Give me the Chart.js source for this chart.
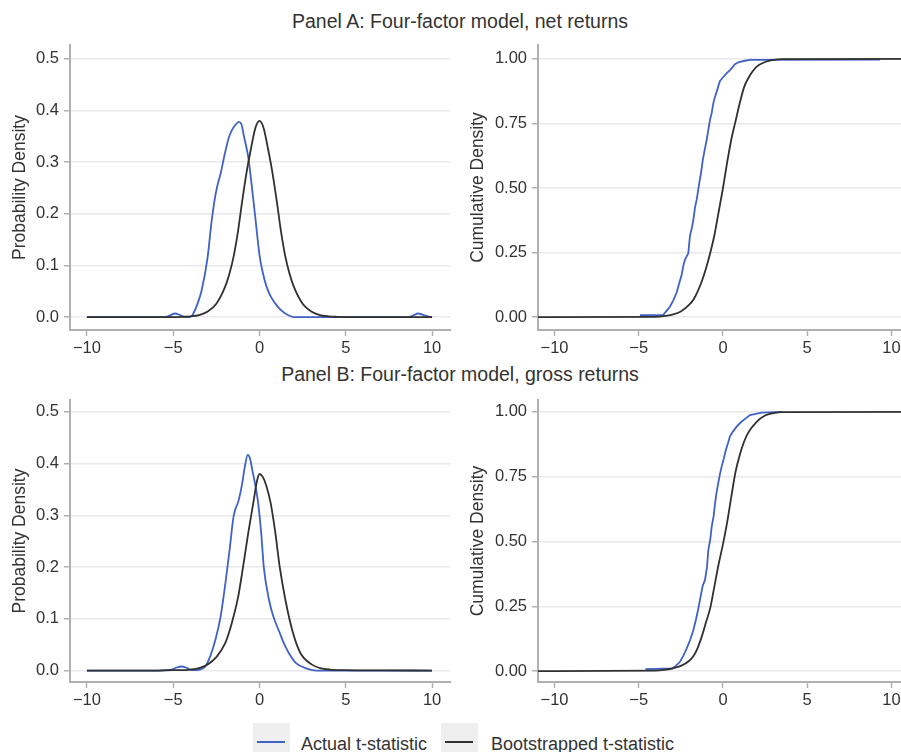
<!DOCTYPE html>
<html>
<head>
<meta charset="utf-8">
<title>Four-factor model t-statistics</title>
<script src="https://cdn.jsdelivr.net/npm/chart.js@4.4.1/dist/chart.umd.min.js"></script>
<style>
    body {
        margin: 0;
        width: 901px;
        height: 752px;
        overflow: hidden;
        background: #fff;
        font-family: "Liberation Sans", Arial, sans-serif;
        color: #333;
        position: relative;
    }
    canvas { position: absolute; }
    .panel-title {
        position: absolute;
        left: 0;
        width: 920px;
        text-align: center;
        font-size: 19.5px;
        line-height: 19.5px;
        white-space: nowrap;
    }
    .legend-box {
        position: absolute;
        top: 723px;
        width: 37px;
        height: 40px;
        background: #efefef;
    }
    .legend-box span {
        position: absolute;
        left: 4px;
        top: 18px;
        width: 28px;
        height: 2px;
    }
    .legend-text {
        position: absolute;
        top: 735px;
        font-size: 18px;
        line-height: 18px;
        white-space: nowrap;
    }
</style>
</head>
<body>

<div class="panel-title" style="top: 11.5px;">Panel A: Four-factor model, net returns</div>
<div class="panel-title" style="top: 364.5px;">Panel B: Four-factor model, gross returns</div>

<canvas id="densA" width="452" height="330" style="left: 0px; top: 30px;"></canvas>
<canvas id="cdfA" width="470" height="330" style="left: 458px; top: 30px;"></canvas>
<canvas id="densB" width="452" height="327" style="left: 0px; top: 385px;"></canvas>
<canvas id="cdfB" width="470" height="327" style="left: 458px; top: 385px;"></canvas>

<div class="legend-box" style="left: 253px;"><span style="background: #3f62c4;"></span></div>
<div class="legend-text" style="left: 301px;">Actual t-statistic</div>
<div class="legend-box" style="left: 441px;"><span style="background: #303030;"></span></div>
<div class="legend-text" style="left: 491px;">Bootstrapped t-statistic</div>

<script>
// tick values
const xTicks = [-10, -5, 0, 5, 10];
const densTicks = [0, 0.1, 0.2, 0.3, 0.4, 0.5];
const cdfTicks = [0, 0.25, 0.5, 0.75, 1];

// panel A, probability density
const actualDensA_x = [-10, -5.5, -5.2, -4.9, -4.6, -4.3, -4.1, -3.9, -3.6, -3.35, -3.0, -2.8, -2.6, -2.45, -2.25, -2.05, -1.8, -1.6, -1.4, -1.2, -1.05, -0.9, -0.65, -0.4, -0.2, 0.0, 0.2, 0.4, 0.65, 0.9, 1.2, 1.5, 2.0, 8.6, 8.9, 9.2, 9.5, 9.8, 10];
const actualDensA_y = [0, 0, 0.003, 0.007, 0.004, 0, 0, 0.003, 0.025, 0.052, 0.117, 0.178, 0.227, 0.253, 0.278, 0.31, 0.345, 0.362, 0.372, 0.378, 0.374, 0.35, 0.31, 0.24, 0.18, 0.12, 0.085, 0.06, 0.04, 0.027, 0.015, 0.007, 0, 0, 0.003, 0.007, 0.004, 0.001, 0];
const bootDensA_x = [-10, -5, -4.5, -4, -3.5, -3, -2.5, -2, -1.75, -1.5, -1.25, -1, -0.75, -0.5, -0.25, 0, 0.25, 0.5, 0.75, 1, 1.25, 1.5, 1.75, 2, 2.5, 3, 3.5, 4, 4.5, 5, 10];
const bootDensA_y = [0, 0, 0.0005, 0.0015, 0.004, 0.011, 0.026, 0.058, 0.083, 0.117, 0.165, 0.225, 0.28, 0.325, 0.365, 0.38, 0.365, 0.325, 0.28, 0.225, 0.165, 0.117, 0.083, 0.058, 0.026, 0.011, 0.004, 0.0015, 0.0005, 0, 0];

// panel A, cumulative density
const actualCdfA_x = [-4.93, -3.55, -3.4, -3.15, -2.95, -2.75, -2.6, -2.45, -2.35, -2.26, -2.06, -1.96, -1.85, -1.76, -1.66, -1.56, -1.41, -1.3, -1.2, -1.08, -0.97, -0.87, -0.77, -0.67, -0.57, -0.47, -0.32, -0.18, 0.02, 0.22, 0.42, 0.71, 0.95, 1.3, 1.6, 9.32];
const actualCdfA_y = [0.008, 0.008, 0.02, 0.04, 0.065, 0.095, 0.13, 0.165, 0.2, 0.222, 0.247, 0.315, 0.345, 0.376, 0.425, 0.455, 0.518, 0.56, 0.608, 0.65, 0.686, 0.725, 0.764, 0.79, 0.83, 0.854, 0.885, 0.915, 0.93, 0.945, 0.957, 0.98, 0.988, 0.993, 0.996, 0.997];
const bootCdfA_x = [-11, -4, -3.5, -3, -2.5, -2, -1.75, -1.5, -1.25, -1, -0.75, -0.5, -0.25, 0, 0.25, 0.5, 0.75, 1, 1.25, 1.5, 2, 2.5, 3, 3.5, 12];
const bootCdfA_y = [0, 0.001, 0.004, 0.01, 0.022, 0.048, 0.068, 0.1, 0.14, 0.19, 0.25, 0.32, 0.41, 0.5, 0.6, 0.69, 0.76, 0.83, 0.89, 0.925, 0.97, 0.988, 0.996, 0.999, 1];

// panel B, probability density
const actualDensB_x = [-10, -6.3, -5.1, -4.8, -4.5, -4.2, -3.9, -3.6, -3.3, -3.1, -2.85, -2.55, -2.25, -1.97, -1.73, -1.5, -1.2, -1.0, -0.85, -0.68, -0.55, -0.4, -0.25, -0.1, 0.1, 0.25, 0.55, 0.8, 1.15, 1.45, 1.7, 2.1, 2.75, 3.3, 10];
const actualDensB_y = [0, 0, 0.002, 0.006, 0.008, 0.005, 0.001, 0.001, 0.004, 0.01, 0.028, 0.06, 0.105, 0.17, 0.234, 0.298, 0.33, 0.362, 0.394, 0.417, 0.41, 0.385, 0.36, 0.33, 0.266, 0.2, 0.137, 0.105, 0.075, 0.05, 0.034, 0.015, 0.004, 0, 0];
const bootDensB_x = [-10, -6, -5, -4.5, -4, -3.5, -3, -2.5, -2, -1.75, -1.5, -1.25, -1, -0.65, -0.33, -0.15, 0, 0.2, 0.4, 0.64, 0.92, 1.17, 1.5, 1.94, 2.37, 3.04, 3.5, 4.1, 5, 6, 7, 10];
const bootDensB_y = [0, 0, 0.001, 0.001, 0.002, 0.005, 0.012, 0.026, 0.052, 0.075, 0.105, 0.14, 0.19, 0.266, 0.33, 0.366, 0.38, 0.374, 0.357, 0.325, 0.266, 0.201, 0.137, 0.073, 0.034, 0.0116, 0.005, 0.002, 0.001, 0.0005, 0.0005, 0];

// panel B, cumulative density
const actualCdfB_x = [-4.6, -3.0, -2.8, -2.55, -2.35, -2.15, -1.95, -1.76, -1.6, -1.45, -1.37, -1.2, -1.07, -0.95, -0.87, -0.75, -0.67, -0.55, -0.47, -0.38, -0.28, -0.18, -0.08, 0.05, 0.17, 0.3, 0.41, 0.6, 0.81, 1.11, 1.35, 1.6, 2.29, 3.56];
const actualCdfB_y = [0.008, 0.01, 0.02, 0.036, 0.06, 0.088, 0.12, 0.158, 0.2, 0.245, 0.274, 0.33, 0.351, 0.4, 0.467, 0.51, 0.557, 0.6, 0.647, 0.69, 0.725, 0.76, 0.789, 0.82, 0.853, 0.88, 0.905, 0.925, 0.943, 0.963, 0.975, 0.988, 0.997, 1.0];
const bootCdfB_x = [-11, -4, -3.5, -3, -2.5, -2, -1.75, -1.5, -1.25, -1, -0.75, -0.5, -0.25, 0, 0.25, 0.5, 0.75, 1, 1.25, 1.5, 2, 2.5, 3, 3.5, 12];
const bootCdfB_y = [0, 0.002, 0.005, 0.011, 0.02, 0.04, 0.058, 0.09, 0.135, 0.19, 0.245, 0.33, 0.415, 0.49, 0.575, 0.675, 0.77, 0.835, 0.885, 0.92, 0.962, 0.986, 0.995, 0.999, 1];

const blue = '#3f62c4';
const black = '#303030';
const axisColor = '#b0b0b0';
const gridColor = '#e9e9ec';
const textColor = '#333333';
const fontFamily = '"Liberation Sans", Arial, sans-serif';

// zip two arrays into {x, y} points
function points(xs, ys) {
    return xs.map((x, i) => ({ x: x, y: ys[i] }));
}

// minus sign like the original
function fmt(v, digits) {
    const s = Math.abs(v).toFixed(digits);
    return v < 0 ? '\u2212' + s : s;
}

function makePanel(id, cfg) {
    const ctx = document.getElementById(id).getContext('2d');

    new Chart(ctx, {
        type: 'line',
        data: {
            datasets: [{
                label: 'Bootstrapped t-statistic',
                data: points(cfg.bootX, cfg.bootY),
                borderColor: black,
                borderWidth: 1.8,
                pointRadius: 0,
                cubicInterpolationMode: 'monotone',
                order: 0
            }, {
                label: 'Actual t-statistic',
                data: points(cfg.actualX, cfg.actualY),
                borderColor: blue,
                borderWidth: 1.8,
                pointRadius: 0,
                cubicInterpolationMode: cfg.smoothActual ? 'monotone' : 'default',
                tension: 0,
                order: 1
            }]
        },
        options: {
            responsive: false,
            animation: false,
            devicePixelRatio: 1,
            layout: { padding: { top: 15, right: cfg.padRight, bottom: 0, left: 0 } },
            plugins: {
                legend: { display: false },
                tooltip: { enabled: false }
            },
            scales: {
                x: {
                    type: 'linear',
                    min: cfg.xMin,
                    max: cfg.xMax,
                    afterBuildTicks: s => { s.ticks = xTicks.map(v => ({ value: v })); },
                    afterFit: s => { s.height = 30; },
                    grid: { drawOnChartArea: false, drawTicks: true, tickLength: 6, tickColor: axisColor, tickWidth: 1.5 },
                    border: { display: true, color: axisColor, width: 2 },
                    ticks: {
                        autoSkip: false,
                        maxRotation: 0,
                        padding: 3,
                        color: textColor,
                        font: { family: fontFamily, size: 16.5 },
                        callback: v => fmt(v, 0)
                    }
                },
                y: {
                    type: 'linear',
                    min: cfg.yMin,
                    max: cfg.yMax,
                    afterBuildTicks: s => { s.ticks = cfg.yTicks.map(v => ({ value: v })); },
                    afterFit: s => { s.width = cfg.yWidth; },
                    grid: { color: gridColor, lineWidth: 1.5, drawTicks: true, tickLength: 6, tickColor: axisColor, tickWidth: 1.5 },
                    border: { display: true, color: axisColor, width: 2 },
                    ticks: {
                        autoSkip: false,
                        padding: 5,
                        color: textColor,
                        font: { family: fontFamily, size: 16.5 },
                        callback: v => fmt(v, cfg.digits)
                    },
                    title: {
                        display: true,
                        text: cfg.yTitle,
                        color: textColor,
                        font: { family: fontFamily, size: 17.5 },
                        padding: { top: 9.5, bottom: 0 }
                    }
                }
            }
        }
    });
}

makePanel('densA', {
    actualX: actualDensA_x, actualY: actualDensA_y,
    bootX: bootDensA_x, bootY: bootDensA_y,
    smoothActual: true,
    xMin: -10.98, xMax: 11.04, yMin: -0.025, yMax: 0.527,
    yTicks: densTicks, digits: 1, yWidth: 70, padRight: 2,
    yTitle: 'Probability Density'
});

makePanel('cdfA', {
    actualX: actualCdfA_x, actualY: actualCdfA_y,
    bootX: bootCdfA_x, bootY: bootCdfA_y,
    smoothActual: false,
    xMin: -10.98, xMax: 12.17, yMin: -0.05, yMax: 1.054,
    yTicks: cdfTicks, digits: 2, yWidth: 80, padRight: 0,
    yTitle: 'Cumulative Density'
});

makePanel('densB', {
    actualX: actualDensB_x, actualY: actualDensB_y,
    bootX: bootDensB_x, bootY: bootDensB_y,
    smoothActual: true,
    xMin: -10.98, xMax: 11.04, yMin: -0.022, yMax: 0.523,
    yTicks: densTicks, digits: 1, yWidth: 70, padRight: 2,
    yTitle: 'Probability Density'
});

makePanel('cdfB', {
    actualX: actualCdfB_x, actualY: actualCdfB_y,
    bootX: bootCdfB_x, bootY: bootCdfB_y,
    smoothActual: false,
    xMin: -10.98, xMax: 12.17, yMin: -0.042, yMax: 1.046,
    yTicks: cdfTicks, digits: 2, yWidth: 80, padRight: 0,
    yTitle: 'Cumulative Density'
});
</script>
</body>
</html>
